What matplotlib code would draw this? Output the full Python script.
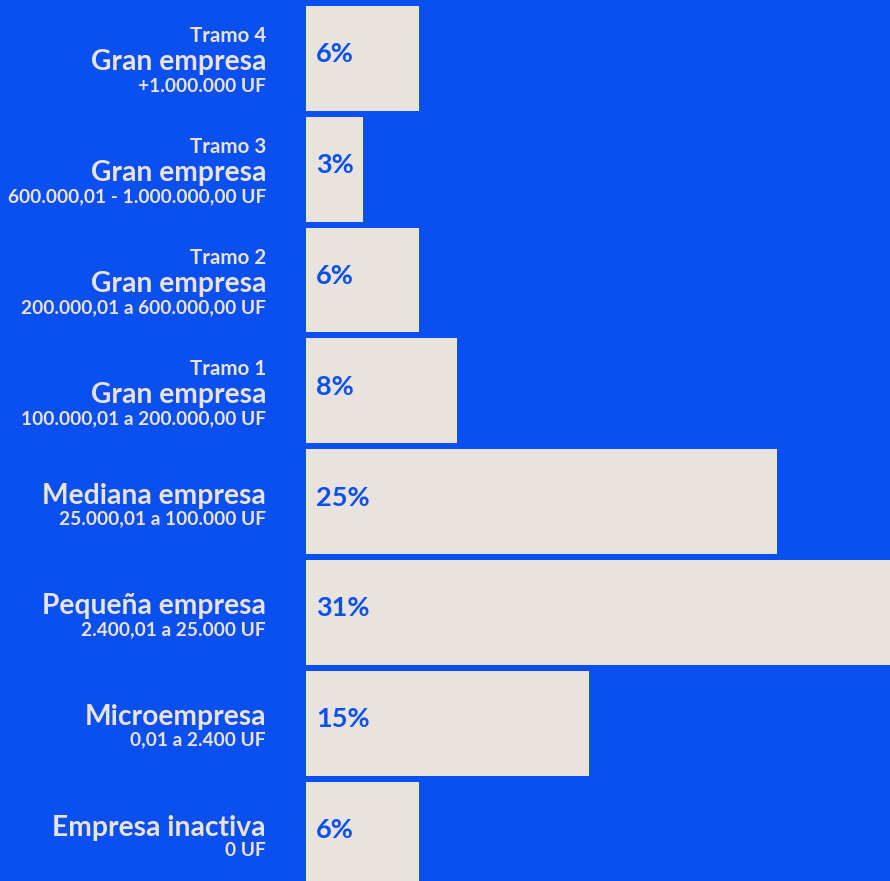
import matplotlib.pyplot as plt

# company size brackets, top to bottom
tramos = ["Tramo 4", "Tramo 3", "Tramo 2", "Tramo 1", "", "", "", ""]
segmentos = ["Gran empresa", "Gran empresa", "Gran empresa", "Gran empresa",
             "Mediana empresa", "Pequeña empresa", "Microempresa", "Empresa inactiva"]
rangos = ["+1.000.000 UF", "600.000,01 - 1.000.000,00 UF", "200.000,01 a 600.000,00 UF",
          "100.000,01 a 200.000,00 UF", "25.000,01 a 100.000 UF", "2.400,01 a 25.000 UF",
          "0,01 a 2.400 UF", "0 UF"]
porcentajes = [6, 3, 6, 8, 25, 31, 15, 6]

AZUL = "#0A4FEF"
CREMA = "#E8E3DE"
FUENTE = ["Lato", "DejaVu Sans"]

fig = plt.figure(figsize=(8.9, 8.81), dpi=100, facecolor=AZUL)
ax = fig.add_axes([306 / 890, 0, 584 / 890, 1])
ax.set_facecolor(AZUL)

pos = list(range(len(porcentajes)))
ax.barh(pos, porcentajes, height=0.945, color=CREMA, linewidth=0)
ax.set_xlim(0, max(porcentajes))
ax.set_ylim((881 - 58.35) / 110.8, -58.35 / 110.8)
ax.axis("off")

trans = ax.get_yaxis_transform()
for i, (t, s, r, v) in enumerate(zip(tramos, segmentos, rangos, porcentajes)):
    # baseline offsets (pixels below the bar centre) for each text line
    if t:
        offs = (-16, 12, 33.5)
    else:
        offs = (None, 2, 22.5)
    if t:
        ax.annotate(t, xy=(0, i), xycoords=trans, xytext=(-40, -offs[0]),
                    textcoords="offset pixels", ha="right", va="baseline",
                    color=CREMA, fontsize=14.8, fontweight="bold", family=FUENTE)
    ax.annotate(s, xy=(0, i), xycoords=trans, xytext=(-40, -offs[1]),
                textcoords="offset pixels", ha="right", va="baseline",
                color=CREMA, fontsize=20.3, fontweight="bold", family=FUENTE)
    ax.annotate(r, xy=(0, i), xycoords=trans, xytext=(-40, -offs[2]),
                textcoords="offset pixels", ha="right", va="baseline",
                color=CREMA, fontsize=13.8, fontweight="bold", family=FUENTE)
    ax.annotate(f"{v}%", xy=(0, i), xycoords="data", xytext=(10, -4),
                textcoords="offset pixels", ha="left", va="baseline",
                color=AZUL, fontsize=19.5, fontweight="bold", family=FUENTE)

fig.savefig("out.png", dpi=100, facecolor=AZUL)
